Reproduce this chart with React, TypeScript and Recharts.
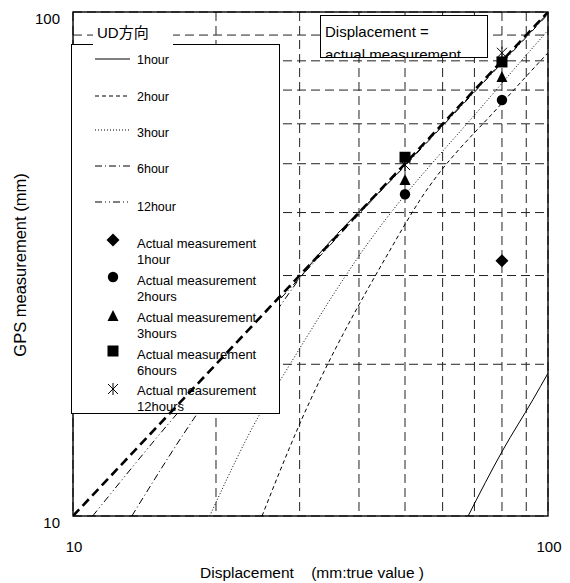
import React from 'react';
import { ComposedChart, XAxis, YAxis, CartesianGrid, Line, Scatter } from 'recharts';

// ---------- data ----------
const axisTicks = [10, 20, 30, 40, 50, 60, 70, 80, 90, 100];
const labeledTicks = [10, 100];

const identityLine = [{ x: 10, y: 10 }, { x: 100, y: 100 }];
const hour1 = [{ x: 67.9, y: 10 }, { x: 80.3, y: 13.5 }, { x: 92.9, y: 17.0 }, { x: 100, y: 19.2 }];
const hour2 = [{ x: 25.0, y: 10 }, { x: 29.8, y: 15.0 }, { x: 46.5, y: 33.7 }, { x: 53.8, y: 42.4 }, { x: 80.3, y: 66.2 }, { x: 100, y: 83 }];
const hour3 = [{ x: 19.4, y: 10 }, { x: 24.8, y: 16.0 }, { x: 27.6, y: 18.9 }, { x: 40.8, y: 33.7 }, { x: 74.5, y: 66.8 }, { x: 100, y: 92 }];
const hour6 = [{ x: 13.3, y: 10 }, { x: 18.3, y: 16.0 }, { x: 27.2, y: 26.0 }, { x: 30, y: 29.6 }, { x: 50, y: 49.5 }, { x: 100, y: 99 }];
const hour12 = [{ x: 11.0, y: 10 }, { x: 16.6, y: 16.0 }, { x: 25, y: 24.6 }, { x: 50, y: 49.7 }, { x: 100, y: 99.5 }];

const meas1h = [{ x: 80, y: 32.1 }];
const meas2h = [{ x: 50, y: 43.5 }, { x: 80, y: 66.9 }];
const meas3h = [{ x: 50, y: 46.4 }, { x: 80, y: 74.3 }];
const meas6h = [{ x: 50, y: 51.5 }, { x: 80, y: 79.6 }];
const meas12h = [{ x: 50, y: 49.7 }, { x: 80, y: 83 }];

const lineNames = ['1hour', '2hour', '3hour', '6hour', '12hour'];
const markerNames = [
  ['Actual measurement', '1hour'],
  ['Actual measurement', '2hours'],
  ['Actual measurement', '3hours'],
  ['Actual measurement', '6hours'],
  ['Actual measurement', '12hours'],
];
const titleText = 'UD方向';
const identityText = ['Displacement =', 'actual measurement'];
const xTitle = 'Displacement\u00A0\u00A0\u00A0\u00A0(mm:true value )';
const yTitle = 'GPS measurement (mm)';

// ---------- styles ----------
const FONT = "'Liberation Sans', Arial, 'Noto Sans CJK JP', sans-serif";
const dashes = ['', '4 3', '1 2', '7 3 1 3', '7 3 1 3 1 3'];

const Diamond = ({ cx, cy }: any) => (
  <path d={`M${cx},${cy - 6.5}L${cx + 6.5},${cy}L${cx},${cy + 6.5}L${cx - 6.5},${cy}Z`} fill="#000" />
);
const Dot = ({ cx, cy }: any) => <circle cx={cx} cy={cy} r={5.2} fill="#000" />;
const Tri = ({ cx, cy }: any) => (
  <path d={`M${cx},${cy - 6}L${cx + 5.5},${cy + 5}L${cx - 5.5},${cy + 5}Z`} fill="#000" />
);
const Sq = ({ cx, cy }: any) => <rect x={cx - 5.5} y={cy - 5.5} width={11} height={11} fill="#000" />;
const Star = ({ cx, cy }: any) => (
  <path
    d={`M${cx - 5},${cy - 5}L${cx + 5},${cy + 5}M${cx + 5},${cy - 5}L${cx - 5},${cy + 5}M${cx},${cy - 6}L${cx},${cy + 6}`}
    stroke="#000"
    strokeWidth={1}
    fill="none"
  />
);
const markerShapes = [Diamond, Dot, Tri, Sq, Star];

const XTick = (props: any) => {
  const { x, y, payload } = props;
  if (!labeledTicks.includes(payload.value)) return <g />;
  return (
    <text x={x + 1} y={y + 30} textAnchor="middle" dominantBaseline="central" fontSize={15} fontFamily={FONT} fill="#000">
      {payload.value}
    </text>
  );
};
const YTick = (props: any) => {
  const { x, y, payload } = props;
  if (!labeledTicks.includes(payload.value)) return <g />;
  return (
    <text x={x - 13} y={y + 6} textAnchor="end" dominantBaseline="central" fontSize={15} fontFamily={FONT} fill="#000">
      {payload.value}
    </text>
  );
};

const lineSampleY = [59, 96, 130, 166, 202];
const lineLabelY = [60, 97, 133, 169, 207];
const markerY = [240, 277, 316, 351, 389];
const markerLabelY = [243, 280, 317, 354, 390];

const Frame = () => (
  <rect x={73} y={12} width={475} height={504} fill="none" stroke="#000" strokeWidth={1.4} />
);

const LegendBox = () => (
  <g fontFamily={FONT} fill="#000">
    <rect x={71.5} y={44.5} width={208} height={369} fill="#fff" stroke="#000" strokeWidth={1} />
    {lineNames.map((n, i) => (
      <g key={n}>
        <line x1={95} x2={130} y1={lineSampleY[i]} y2={lineSampleY[i]} stroke="#000" strokeWidth={1} strokeDasharray={dashes[i] || undefined} />
        <text x={137} y={lineLabelY[i]} dominantBaseline="central" fontSize={12.5}>{n}</text>
      </g>
    ))}
    {markerNames.map((n, i) => {
      const S = markerShapes[i];
      return (
        <g key={i}>
          <S cx={113} cy={markerY[i]} />
          <text x={137} y={markerLabelY[i]} dominantBaseline="central" fontSize={13}>{n[0]}</text>
          <text x={137} y={markerLabelY[i] + 16.5} dominantBaseline="central" fontSize={13}>{n[1]}</text>
        </g>
      );
    })}
    <rect x={93} y={24} width={80} height={21} fill="#fff" />
    <text x={97} y={32} dominantBaseline="central" fontSize={15}>{titleText}</text>
  </g>
);

const IdentityBox = () => (
  <g fontFamily={FONT} fill="#000">
    <defs>
      <clipPath id="idclip">
        <rect x={320} y={15} width={167} height={42} />
      </clipPath>
    </defs>
    <rect x={320.5} y={15.5} width={167} height={42} fill="#fff" stroke="#000" strokeWidth={1} />
    <g clipPath="url(#idclip)">
      <text x={325} y={37} fontSize={15}>{identityText[0]}</text>
      <text x={325} y={59.5} fontSize={15}>{identityText[1]}</text>
    </g>
    <line x1={320} x2={488} y1={57.5} y2={57.5} stroke="#000" strokeWidth={1} />
  </g>
);

const Titles = () => (
  <g fontFamily={FONT} fill="#000">
    <text x={312} y={572} textAnchor="middle" dominantBaseline="central" fontSize={15.5}>{xTitle}</text>
    <text x={20} y={265} textAnchor="middle" dominantBaseline="central" fontSize={16.5} transform="rotate(-90 20 265)">{yTitle}</text>
  </g>
);

export default function App() {
  return (
    <div style={{ position: 'absolute', left: 0, top: 0, width: 570, height: 583, background: '#fff' }}>
      <ComposedChart width={570} height={583} margin={{ top: 12, right: 22, bottom: 22, left: 13 }}>
        <XAxis
          dataKey="x"
          type="number"
          scale="log"
          domain={[10, 100]}
          ticks={axisTicks}
          interval={0}
          allowDataOverflow
          axisLine={false}
          tickLine={false}
          tickSize={0}
          tickMargin={0}
          height={45}
          tick={<XTick />}
        />
        <YAxis
          dataKey="y"
          type="number"
          scale="log"
          domain={[10, 100]}
          ticks={axisTicks}
          interval={0}
          allowDataOverflow
          axisLine={false}
          tickLine={false}
          tickSize={0}
          tickMargin={0}
          width={60}
          tick={<YTick />}
        />
        <CartesianGrid strokeDasharray="9 5" stroke="#222" strokeWidth={1} />
        <Frame />
        <Line data={hour1} dataKey="y" type="monotone" stroke="#000" strokeWidth={1} dot={false} isAnimationActive={false} zIndex={-50} />
        <Line data={hour2} dataKey="y" type="monotone" stroke="#000" strokeWidth={1} strokeDasharray={dashes[1]} dot={false} isAnimationActive={false} zIndex={-50} />
        <Line data={hour3} dataKey="y" type="monotone" stroke="#000" strokeWidth={1} strokeDasharray={dashes[2]} dot={false} isAnimationActive={false} zIndex={-50} />
        <Line data={hour6} dataKey="y" type="monotone" stroke="#000" strokeWidth={1} strokeDasharray={dashes[3]} dot={false} isAnimationActive={false} zIndex={-50} />
        <Line data={hour12} dataKey="y" type="monotone" stroke="#000" strokeWidth={1} strokeDasharray={dashes[4]} dot={false} isAnimationActive={false} zIndex={-50} />
        <LegendBox />
        <IdentityBox />
        <Titles />
        <Line data={identityLine} dataKey="y" type="linear" stroke="#000" strokeWidth={2.6} strokeDasharray="9 5" dot={false} isAnimationActive={false} />
        <Scatter data={meas1h} dataKey="y" shape={(p: any) => <Diamond {...p} />} isAnimationActive={false} />
        <Scatter data={meas2h} dataKey="y" shape={(p: any) => <Dot {...p} />} isAnimationActive={false} />
        <Scatter data={meas3h} dataKey="y" shape={(p: any) => <Tri {...p} />} isAnimationActive={false} />
        <Scatter data={meas6h} dataKey="y" shape={(p: any) => <Sq {...p} />} isAnimationActive={false} />
        <Scatter data={meas12h} dataKey="y" shape={(p: any) => <Star {...p} />} isAnimationActive={false} />
      </ComposedChart>
    </div>
  );
}
